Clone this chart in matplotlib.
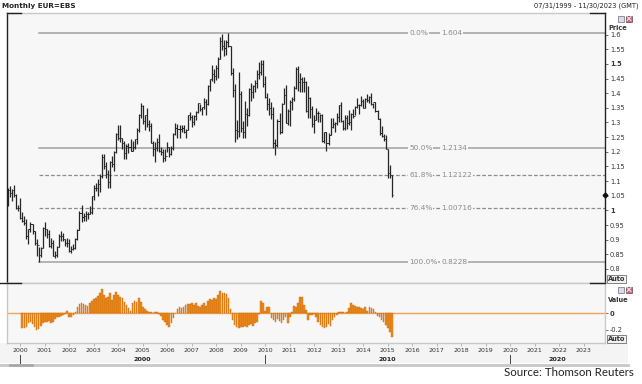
import numpy as np
import matplotlib
matplotlib.use("Agg")
import matplotlib.pyplot as plt
from matplotlib.transforms import blended_transform_factory
from matplotlib.patches import Rectangle
from matplotlib.lines import Line2D

# ---------------- data (monthly EUR=EBS, Jul 1999 .. Mar 2015) ----------------
first_year, first_month = 1999, 7
first_open = 1.0370

high = [
    1.0770, 1.0830, 1.0720, 1.0880, 1.0570, 1.0200,                      # 1999 Jul-Dec
    1.0410, 0.9950, 0.9800, 0.9690, 0.9370, 0.9610, 0.9520, 0.9300, 0.9010, 0.8750, 0.8760, 0.9440,  # 2000
    0.9590, 0.9380, 0.9340, 0.9070, 0.8990, 0.8620, 0.8800, 0.9200, 0.9300, 0.9230, 0.9040, 0.9060,  # 2001
    0.9040, 0.8780, 0.8840, 0.9060, 0.9380, 0.9990, 1.0200, 0.9910, 0.9990, 0.9960, 1.0150, 1.0500,  # 2002
    1.0870, 1.0930, 1.1060, 1.1230, 1.1930, 1.1930, 1.1640, 1.1390, 1.1690, 1.1870, 1.2020, 1.2640,  # 2003
    1.2900, 1.2930, 1.2480, 1.2380, 1.2270, 1.2290, 1.2430, 1.2370, 1.2430, 1.2800, 1.3300, 1.3670,  # 2004
    1.3580, 1.3270, 1.3480, 1.3090, 1.2980, 1.2360, 1.2320, 1.2480, 1.2590, 1.2170, 1.2100, 1.2090,  # 2005
    1.2320, 1.2150, 1.2210, 1.2630, 1.2980, 1.2940, 1.2920, 1.2920, 1.2920, 1.2780, 1.3250, 1.3370,  # 2006
    1.3270, 1.3250, 1.3380, 1.3670, 1.3620, 1.3540, 1.3850, 1.3800, 1.4280, 1.4500, 1.4970, 1.4830,  # 2007
    1.4970, 1.5230, 1.5910, 1.6020, 1.5820, 1.5800, 1.6040, 1.5620, 1.4870, 1.4310, 1.3080, 1.4720,  # 2008
    1.4070, 1.3050, 1.3740, 1.3480, 1.4170, 1.4340, 1.4280, 1.4450, 1.4780, 1.5060, 1.5140, 1.5140,  # 2009
    1.4580, 1.3990, 1.3820, 1.3700, 1.3520, 1.2440, 1.3130, 1.3330, 1.3680, 1.4160, 1.4280, 1.3460,  # 2010
    1.3760, 1.3860, 1.4250, 1.4880, 1.4940, 1.4700, 1.4540, 1.4550, 1.4430, 1.4250, 1.3870, 1.3550,  # 2011
    1.3240, 1.3490, 1.3390, 1.3280, 1.3280, 1.2690, 1.2670, 1.2640, 1.3170, 1.3140, 1.3030, 1.3310,  # 2012
    1.3590, 1.3710, 1.3080, 1.3240, 1.3240, 1.3420, 1.3340, 1.3450, 1.3570, 1.3830, 1.3630, 1.3890,  # 2013
    1.3800, 1.3830, 1.3970, 1.3900, 1.3990, 1.3680, 1.3700, 1.3440, 1.3140, 1.2890, 1.2600, 1.2570,  # 2014
    1.2100, 1.1540, 1.1200,                                                # 2015 Jan-Mar
]
low = [
    1.0140, 1.0440, 1.0330, 1.0470, 1.0030, 0.9990,
    0.9700, 0.9600, 0.9500, 0.9040, 0.8840, 0.9270, 0.9180, 0.8830, 0.8440, 0.8230, 0.8400, 0.8700,
    0.9110, 0.9060, 0.8760, 0.8710, 0.8450, 0.8380, 0.8400, 0.8760, 0.8950, 0.8940, 0.8770, 0.8760,
    0.8570, 0.8560, 0.8660, 0.8690, 0.9000, 0.9320, 0.9600, 0.9630, 0.9650, 0.9690, 0.9860, 0.9860,
    1.0340, 1.0660, 1.0500, 1.0620, 1.1100, 1.1420, 1.1110, 1.0760, 1.0770, 1.1470, 1.1330, 1.1960,
    1.2390, 1.2340, 1.2090, 1.1760, 1.1760, 1.1960, 1.2010, 1.2030, 1.2090, 1.2250, 1.2690, 1.3170,
    1.2950, 1.2740, 1.2860, 1.2710, 1.2290, 1.1870, 1.1640, 1.2040, 1.2000, 1.1900, 1.1640, 1.1700,
    1.1980, 1.1820, 1.1880, 1.2060, 1.2580, 1.2460, 1.2460, 1.2690, 1.2650, 1.2480, 1.2740, 1.3080,
    1.2860, 1.2930, 1.3080, 1.3330, 1.3400, 1.3270, 1.3450, 1.3260, 1.3580, 1.4080, 1.4420, 1.4350,
    1.4450, 1.4530, 1.5150, 1.5470, 1.5280, 1.5290, 1.5560, 1.4620, 1.3880, 1.2330, 1.2420, 1.2510,
    1.2690, 1.2460, 1.2460, 1.2880, 1.3220, 1.3750, 1.3850, 1.4040, 1.4160, 1.4480, 1.4630, 1.4220,
    1.3850, 1.3440, 1.3270, 1.3110, 1.2140, 1.1880, 1.2160, 1.2590, 1.2650, 1.3630, 1.2970, 1.2910,
    1.2870, 1.3420, 1.3740, 1.4130, 1.4070, 1.4040, 1.4030, 1.4050, 1.3360, 1.3150, 1.3140, 1.2850,
    1.2630, 1.3080, 1.3000, 1.3000, 1.2340, 1.2290, 1.2040, 1.2240, 1.2560, 1.2800, 1.2660, 1.2930,
    1.3000, 1.3020, 1.2750, 1.2740, 1.2790, 1.2920, 1.2760, 1.3150, 1.3260, 1.3480, 1.3290, 1.3550,
    1.3500, 1.3480, 1.3700, 1.3680, 1.3610, 1.3500, 1.3370, 1.3130, 1.2570, 1.2500, 1.2360, 1.2100,
    1.1100, 1.1100, 1.0460,
]
close = [
    1.0690, 1.0590, 1.0680, 1.0540, 1.0090, 1.0070,
    0.9730, 0.9650, 0.9560, 0.9120, 0.9350, 0.9530, 0.9280, 0.8870, 0.8830, 0.8490, 0.8720, 0.9390,
    0.9360, 0.9210, 0.8800, 0.8890, 0.8450, 0.8490, 0.8760, 0.9130, 0.9130, 0.9020, 0.8900, 0.8900,
    0.8600, 0.8690, 0.8720, 0.9010, 0.9330, 0.9920, 0.9780, 0.9810, 0.9870, 0.9880, 0.9930, 1.0490,
    1.0770, 1.0780, 1.0910, 1.1180, 1.1810, 1.1510, 1.1240, 1.0980, 1.1650, 1.1590, 1.1990, 1.2590,
    1.2470, 1.2480, 1.2300, 1.1950, 1.2200, 1.2170, 1.2020, 1.2180, 1.2420, 1.2750, 1.3260, 1.3560,
    1.3040, 1.3250, 1.2960, 1.2880, 1.2300, 1.2100, 1.2130, 1.2340, 1.2020, 1.1990, 1.1800, 1.1840,
    1.2160, 1.1920, 1.2120, 1.2620, 1.2810, 1.2790, 1.2770, 1.2810, 1.2670, 1.2750, 1.3250, 1.3200,
    1.3020, 1.3230, 1.3360, 1.3650, 1.3450, 1.3530, 1.3690, 1.3620, 1.4260, 1.4480, 1.4640, 1.4590,
    1.4860, 1.5180, 1.5790, 1.5600, 1.5540, 1.5750, 1.5610, 1.4680, 1.4100, 1.2730, 1.2700, 1.3970,
    1.2800, 1.2660, 1.3280, 1.3240, 1.4150, 1.4030, 1.4250, 1.4340, 1.4640, 1.4720, 1.5000, 1.4330,
    1.3870, 1.3630, 1.3510, 1.3290, 1.2300, 1.2230, 1.3050, 1.2680, 1.3630, 1.3930, 1.2980, 1.3380,
    1.3690, 1.3800, 1.4160, 1.4810, 1.4390, 1.4500, 1.4390, 1.4370, 1.3390, 1.3850, 1.3450, 1.2960,
    1.3080, 1.3330, 1.3340, 1.3240, 1.2360, 1.2660, 1.2300, 1.2580, 1.2860, 1.2950, 1.2990, 1.3190,
    1.3580, 1.3050, 1.2820, 1.3170, 1.2990, 1.3010, 1.3300, 1.3220, 1.3520, 1.3580, 1.3590, 1.3750,
    1.3490, 1.3800, 1.3770, 1.3870, 1.3630, 1.3690, 1.3390, 1.3130, 1.2630, 1.2530, 1.2450, 1.2100,
    1.1290, 1.1195, 1.0540,
]

# lower study ("Value"), Feb 2000 .. Mar 2015
value_first_year, value_first_month = 2000, 2
value = [
    -0.18, -0.18, -0.17, -0.12, -0.11, -0.13, -0.17, -0.20, -0.19, -0.15, -0.12,             # 2000 Feb-Dec
    -0.10, -0.11, -0.09, -0.12, -0.10, -0.07, -0.05, -0.04, -0.03, -0.02, -0.01, 0.03,        # 2001
    -0.05, -0.04, -0.02, 0.02, 0.08, 0.11, 0.12, 0.11, 0.10, 0.09, 0.12, 0.15,                # 2002
    0.17, 0.19, 0.21, 0.24, 0.29, 0.22, 0.18, 0.20, 0.25, 0.16, 0.22, 0.26,                   # 2003
    0.22, 0.20, 0.18, 0.13, 0.10, 0.06, 0.03, 0.12, 0.15, 0.13, 0.18, 0.14,                   # 2004
    0.08, 0.05, 0.03, 0.01, 0.01, 0.00, 0.01, 0.01, -0.01, -0.03, -0.08, -0.11,               # 2005
    -0.14, -0.16, -0.12, -0.06, 0.00, 0.05, 0.07, 0.06, 0.08, 0.10, 0.11, 0.11,               # 2006
    0.12, 0.10, 0.12, 0.09, 0.08, 0.10, 0.12, 0.09, 0.15, 0.17, 0.16, 0.18,                   # 2007
    0.17, 0.22, 0.27, 0.25, 0.24, 0.23, 0.18, 0.05, -0.08, -0.14, -0.17, -0.18,               # 2008
    -0.17, -0.16, -0.15, -0.16, -0.14, -0.13, -0.15, -0.12, -0.10, -0.01, 0.15, 0.12,         # 2009
    0.03, 0.07, 0.07, -0.06, -0.08, -0.10, -0.07, -0.09, -0.12, -0.08, -0.05, -0.12,          # 2010
    -0.05, 0.02, 0.09, 0.08, 0.12, 0.20, 0.20, 0.10, 0.04, -0.08, -0.02, -0.02,               # 2011
    -0.01, -0.05, -0.10, -0.14, -0.17, -0.18, -0.17, -0.13, -0.15, -0.08, -0.05, -0.02,       # 2012
    0.01, 0.01, 0.01, 0.00, 0.01, 0.06, 0.12, 0.10, 0.09, 0.08, 0.07, 0.06,                   # 2013
    0.05, 0.07, 0.03, 0.07, 0.06, 0.05, 0.02, -0.03, -0.05, -0.08, -0.11, -0.14,              # 2014
    -0.18, -0.22, -0.28,                                                                     # 2015 Jan-Mar
]

fib_pct = ["0.0%", "50.0%", "61.8%", "76.4%", "100.0%"]
fib_level = [1.604, 1.2134, 1.12122, 1.00716, 0.8228]
fib_label = ["1.604", "1.2134", "1.12122", "1.00716", "0.8228"]
fib_dashed = [False, False, True, True, False]
fib_anchor = 2000.75          # Oct 2000 low
last_price = 1.054

price_ticks = [0.8, 0.85, 0.9, 0.95, 1.0, 1.05, 1.1, 1.15, 1.2, 1.25, 1.3, 1.35, 1.4, 1.45, 1.5, 1.55, 1.6]
price_tick_labels = ["0.8", "0.85", "0.9", "0.95", "1", "1.05", "1.1", "1.15", "1.2", "1.25",
                     "1.3", "1.35", "1.4", "1.45", "1.5", "1.55", "1.6"]
bold_price_labels = ["1", "1.5"]
value_ticks = [0.0, -0.2]
value_tick_labels = ["0", "-0.2"]
year_labels = list(range(2000, 2024))
decade_labels = [2000, 2010, 2020]
x_range = (1999.47, 2023.87)

# ---------------- figure ----------------
W, H = 642, 384
fig = plt.figure(figsize=(W / 100, H / 100), dpi=100)
fig.patch.set_facecolor("white")
FONT = "DejaVu Sans"
PANEL = "#f7f7f7"


def px_axes(l, t, r, b):
    return fig.add_axes([l / W, 1 - b / H, (r - l) / W, (b - t) / H])


def fy(y):
    return 1 - y / H


def fx(x):
    return x / W


# band under the panels (drawn beneath everything)
fig.patches.append(Rectangle((fx(0), fy(363)), fx(628), (363 - 342.7) / H, transform=fig.transFigure,
                             facecolor="#f4f4f4", edgecolor="none", zorder=-5))
fig.lines.append(Line2D([fx(0), fx(628)], [fy(364.5), fy(364.5)], transform=fig.transFigure,
                        color="#c8c8c8", lw=2.0, zorder=-4))
fig.lines.append(Line2D([fx(10), fx(32)], [fy(364.5), fy(364.5)], transform=fig.transFigure,
                        color="#a8a8a8", lw=2.0, zorder=-4))

ax = px_axes(7.3, 12.5, 605, 283.3)
ax2 = px_axes(7.3, 283.3, 605, 342.7)

n = len(close)
t = np.array([first_year + (first_month - 1 + i) / 12.0 for i in range(n)])
opens = [first_open] + close[:-1]

ax.set_facecolor(PANEL)
ax.vlines(t, low, high, color="#262626", lw=0.9, zorder=3)
ax.hlines(opens, t - 0.045, t, color="#262626", lw=0.7, zorder=3)
ax.hlines(close, t, t + 0.045, color="#262626", lw=0.7, zorder=3)

for pct, lev, lab, dashed in zip(fib_pct, fib_level, fib_label, fib_dashed):
    if dashed:
        ax.plot([fib_anchor, x_range[1]], [lev, lev], color="#8c8c8c", lw=0.9,
                dashes=(3, 1.6), zorder=2)
    else:
        ax.plot([fib_anchor, x_range[1]], [lev, lev], color="#a0a0a0", lw=1.1, zorder=2)
    bb = dict(boxstyle="square,pad=0.12", facecolor=PANEL, edgecolor="none")
    ax.text(2015.87, lev, pct, fontsize=5.3, color="#8a8a8a", va="center", ha="left",
            family=FONT, bbox=bb, zorder=4)
    ax.text(2017.18, lev, lab, fontsize=5.3, color="#8a8a8a", va="center", ha="left",
            family=FONT, bbox=bb, zorder=4)

ax.set_xlim(*x_range)
ax.set_ylim(0.7511, 1.6754)
ax.set_xticks([])
ax.yaxis.tick_right()
ax.set_yticks(price_ticks)
ax.set_yticklabels(price_tick_labels)
ax.tick_params(axis="y", length=2.5, width=0.6, color="#555555", labelsize=4.8, pad=1,
               labelcolor="#333333")
for lbl in ax.get_yticklabels():
    lbl.set_family(FONT)
    if lbl.get_text() in bold_price_labels:
        lbl.set_fontweight("bold")
for side in ["top", "bottom"]:
    ax.spines[side].set_color("#c8c8c8")
    ax.spines[side].set_linewidth(1.0)
for side in ["left", "right"]:
    ax.spines[side].set_color("#222222")
    ax.spines[side].set_linewidth(1.0)
# last price marker
ax.plot([x_range[1]], [last_price], marker="D", ms=2.4, color="#111111", clip_on=False, zorder=6)

# corner marks
for (x0, x1, y) in [(7.3, 21, 12.7), (590, 605, 12.7), (0, 21, 283.3), (590, 605, 283.3)]:
    fig.lines.append(Line2D([fx(x0), fx(x1)], [fy(y), fy(y)], transform=fig.transFigure,
                            color="#222222", lw=1.0))

# lower panel
m = len(value)
tv = np.array([value_first_year + (value_first_month - 1 + i) / 12.0 for i in range(m)])
ax2.set_facecolor(PANEL)
ax2.axhline(0, color="#f0a45a", lw=1.0, zorder=2)
ax2.bar(tv, value, width=0.068, color="#ef8c1e", edgecolor="#c86a0a", linewidth=0.3, zorder=3)
ax2.set_xlim(*x_range)
ax2.set_ylim(-0.354, 0.361)
ax2.yaxis.tick_right()
ax2.set_yticks(value_ticks)
ax2.set_yticklabels(value_tick_labels)
ax2.tick_params(axis="y", length=2.5, width=0.6, color="#555555", labelsize=4.8, pad=1,
                labelcolor="#333333")
for lbl in ax2.get_yticklabels():
    lbl.set_family(FONT)
    if lbl.get_text() == "0":
        lbl.set_fontweight("bold")
ax2.set_xticks(year_labels)
ax2.set_xticklabels([])
ax2.tick_params(axis="x", length=2.0, width=0.5, color="#999999")
for side in ["top", "bottom", "left", "right"]:
    ax2.spines[side].set_color("#c8c8c8")
    ax2.spines[side].set_linewidth(1.0)

tr = blended_transform_factory(ax2.transData, fig.transFigure)
for yr in year_labels:
    ax2.text(yr, fy(350.5), str(yr), transform=tr, fontsize=4.5, color="#333333",
             ha="center", va="center", family=FONT, clip_on=False)
for i, d in enumerate(decade_labels):
    end = decade_labels[i + 1] if i + 1 < len(decade_labels) else x_range[1]
    ax2.text((d + end) / 2.0, fy(359.3), str(d), transform=tr, fontsize=4.6, color="#222222",
             fontweight="bold", ha="center", va="center", family=FONT, clip_on=False)
    ax2.plot([d, d], [fy(354.5), fy(362.5)], transform=tr, color="#444444", lw=0.7,
             clip_on=False)

# header & side labels
fig.text(fx(2), fy(6), "Monthly EUR=EBS", fontsize=5.2, fontweight="bold", color="#222222",
         ha="left", va="center", family=FONT)
fig.text(fx(639), fy(6), "07/31/1999 - 11/30/2023 (GMT)", fontsize=4.8, color="#222222",
         ha="right", va="center", family=FONT)
fig.text(fx(608), fy(28), "Price", fontsize=4.8, fontweight="bold", color="#333333",
         ha="left", va="center", family=FONT)
fig.text(fx(608), fy(300.5), "Value", fontsize=4.8, fontweight="bold", color="#333333",
         ha="left", va="center", family=FONT)
for yc in [279, 339]:
    fig.text(fx(607.5), fy(yc), "Auto", fontsize=4.8, fontweight="bold", color="#333333",
             ha="left", va="center", family=FONT,
             bbox=dict(boxstyle="square,pad=0.15", facecolor="#f2f2f2", edgecolor="#555555",
                       linewidth=0.5))
# small window icons
for yc in [18.5, 289.5]:
    fig.patches.append(Rectangle((fx(618), fy(yc + 3)), 6 / W, 6 / H, transform=fig.transFigure,
                                 facecolor="#d8dde6", edgecolor="#6a7080", lw=0.5))
    fig.patches.append(Rectangle((fx(626), fy(yc + 3)), 6 / W, 6 / H, transform=fig.transFigure,
                                 facecolor="#c97080", edgecolor="#6a4050", lw=0.5))
    fig.lines.append(Line2D([fx(627), fx(631)], [fy(yc + 2), fy(yc - 2)], transform=fig.transFigure,
                            color="white", lw=0.6))
    fig.lines.append(Line2D([fx(627), fx(631)], [fy(yc - 2), fy(yc + 2)], transform=fig.transFigure,
                            color="white", lw=0.6))

fig.text(fx(634), fy(372), "Source: Thomson Reuters", fontsize=8.3, color="#222222",
         ha="right", va="center", family=["Lato", "DejaVu Sans"])

fig.savefig("out.png", dpi=100)
